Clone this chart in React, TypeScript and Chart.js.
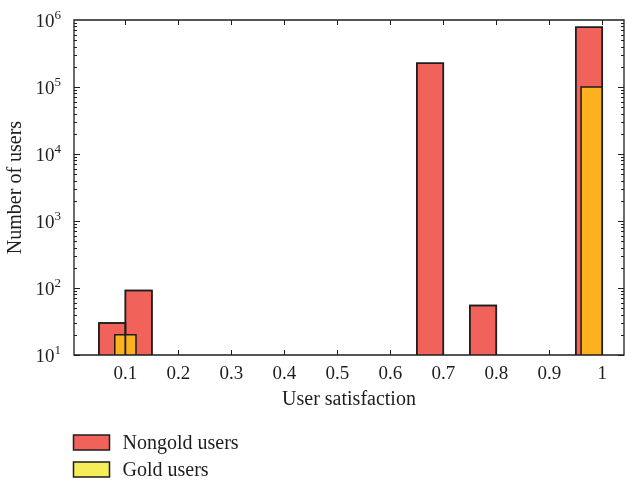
import React, { useEffect, useRef } from "react";
import { Chart, registerables } from "chart.js";

Chart.register(...registerables);

// ---- data ----
const nongoldStart = [0.05, 0.1, 0.65, 0.75, 0.95];
const nongoldEnd = [0.1, 0.15, 0.7, 0.8, 1.0];
const nongoldCounts = [30, 92, 226000, 55, 780000];

const goldStart = [0.08, 0.96];
const goldEnd = [0.12, 1.0];
const goldCounts = [20, 100000];

const xTicks = [0.1, 0.2, 0.3, 0.4, 0.5, 0.6, 0.7, 0.8, 0.9, 1.0];
const yTicks = [1e1, 1e2, 1e3, 1e4, 1e5, 1e6];
const yTickBase = "10";
const yTickExponents = ["1", "2", "3", "4", "5", "6"];

const legendLabels = ["Nongold users", "Gold users"];
const xTitle = "User satisfaction";
const yTitle = "Number of users";

// ---- styles ----
const RED = "#F0625A";
const ORANGE = "#FBB21D";
const LEGEND_YELLOW = "#F6EE58";
const INK = "#1e1e1e";
const FONT = "'Liberation Serif', 'DejaVu Serif', serif";
const Y_MIN = 10;
const Y_MAX = 1e6;

function barDatasets(
  starts: number[],
  ends: number[],
  counts: number[],
  color: string,
  order: number,
  filled = true
) {
  return counts.map((v, i) => ({
    label: "",
    data: [
      { x: starts[i], y: Y_MIN },
      { x: starts[i], y: v },
      { x: ends[i], y: v },
      { x: ends[i], y: Y_MIN },
    ],
    borderColor: INK,
    borderWidth: 1.5,
    backgroundColor: filled ? color : "rgba(0,0,0,0)",
    fill: filled ? "start" : false,
    pointRadius: 0,
    tension: 0,
    order,
  }));
}

const framePlugin = {
  id: "frameTicks",
  afterDatasetsDraw(chart: any) {
    const { ctx, chartArea } = chart;
    const { left, right, top, bottom } = chartArea;
    const xs = chart.scales.x;
    const ys = chart.scales.y;
    ctx.save();
    ctx.strokeStyle = INK;
    ctx.lineWidth = 1.3;
    ctx.beginPath();
    ctx.rect(left, top, right - left, bottom - top);
    ctx.stroke();
    ctx.lineWidth = 1;
    ctx.beginPath();
    xTicks.forEach((t) => {
      const px = Math.round(xs.getPixelForValue(t)) + 0.5;
      ctx.moveTo(px, bottom);
      ctx.lineTo(px, bottom - 5);
      ctx.moveTo(px, top);
      ctx.lineTo(px, top + 5);
    });
    for (let d = 1; d < 6; d++) {
      for (let m = 1; m <= 9; m++) {
        const v = m * Math.pow(10, d);
        if (v > Y_MAX) break;
        const py = Math.round(ys.getPixelForValue(v)) + 0.5;
        const len = m === 1 ? 6 : 3;
        ctx.moveTo(left, py);
        ctx.lineTo(left + len, py);
        ctx.moveTo(right, py);
        ctx.lineTo(right - len, py);
      }
    }
    ctx.stroke();

    // y tick labels with superscript exponents, placed via the y scale
    ctx.fillStyle = INK;
    ctx.textBaseline = "alphabetic";
    yTicks.forEach((v, i) => {
      const py = ys.getPixelForValue(v);
      const exp = yTickExponents[i];
      ctx.font = `13px ${FONT}`;
      const ew = ctx.measureText(exp).width;
      ctx.textAlign = "left";
      const xEnd = left - 13;
      ctx.fillText(exp, xEnd - ew, py - 1);
      ctx.font = `19px ${FONT}`;
      ctx.textAlign = "right";
      ctx.fillText(yTickBase, xEnd - ew, py + 6.5);
    });
    ctx.restore();
  },
};

const legendPlugin = {
  id: "stackedLegend",
  afterDraw(chart: any, _args: any, opts: any) {
    const { ctx, chartArea } = chart;
    const colors = [RED, LEGEND_YELLOW];
    ctx.save();
    ctx.font = `20px ${FONT}`;
    ctx.textBaseline = "middle";
    ctx.textAlign = "left";
    legendLabels.forEach((label, i) => {
      const x = opts.x;
      const y = chartArea.bottom + opts.offset + i * opts.rowGap;
      ctx.fillStyle = colors[i];
      ctx.fillRect(x, y, opts.boxW, opts.boxH);
      ctx.strokeStyle = INK;
      ctx.lineWidth = 1.5;
      ctx.strokeRect(x, y, opts.boxW, opts.boxH);
      ctx.fillStyle = INK;
      ctx.fillText(label, x + opts.boxW + 13, y + opts.boxH / 2 + 1);
    });
    ctx.restore();
  },
};

export default function App() {
  const ref = useRef<HTMLCanvasElement | null>(null);

  useEffect(() => {
    if (!ref.current) return;
    const datasets = [
      // outlines of the nongold bars, drawn on top of everything
      ...barDatasets(nongoldStart, nongoldEnd, nongoldCounts, RED, -1, false),
      ...barDatasets(goldStart, goldEnd, goldCounts, ORANGE, 0),
      ...barDatasets(nongoldStart, nongoldEnd, nongoldCounts, RED, 1),
    ];
    const chart = new Chart(ref.current, {
      type: "line",
      data: { datasets: datasets as any },
      options: {
        responsive: false,
        animation: false,
        devicePixelRatio: 1,
        layout: { padding: { top: 20, right: 1, bottom: 65, left: 0 } },
        plugins: {
          legend: { display: false },
          tooltip: { enabled: false },
          stackedLegend: { x: 73.5, offset: 80, rowGap: 27, boxW: 36, boxH: 15 },
        } as any,
        scales: {
          x: {
            type: "linear",
            min: 0.003,
            max: 1.041,
            afterBuildTicks: (s: any) => {
              s.ticks = xTicks.map((v) => ({ value: v }));
            },
            afterFit: (s: any) => {
              s.height = 60;
            },
            grid: { display: false, drawTicks: false },
            border: { display: false },
            ticks: {
              padding: 8,
              color: INK,
              font: { family: FONT, size: 19 },
              maxRotation: 0,
              autoSkip: false,
              callback: (v: any) => (Number(v) === 1 ? "1" : Number(v).toFixed(1)),
            },
            title: {
              display: true,
              text: xTitle,
              color: INK,
              font: { family: FONT, size: 20, lineHeight: 1 },
              padding: { top: 0, bottom: 5 },
            },
          },
          y: {
            type: "logarithmic",
            min: Y_MIN,
            max: Y_MAX,
            afterBuildTicks: (s: any) => {
              s.ticks = yTicks.map((v) => ({ value: v }));
            },
            afterFit: (s: any) => {
              s.width = 74;
            },
            grid: { display: false, drawTicks: false },
            border: { display: false },
            ticks: { display: false },
            title: {
              display: true,
              text: yTitle,
              color: INK,
              font: { family: FONT, size: 20, lineHeight: 1 },
              padding: { top: 6, bottom: 0 },
            },
          },
        },
      },
      plugins: [framePlugin, legendPlugin],
    });
    return () => chart.destroy();
  }, []);

  return (
    <div style={{ position: "absolute", left: 0, top: 0, width: 625, height: 480, background: "#fff" }}>
      <canvas ref={ref} width={625} height={480} />
    </div>
  );
}
